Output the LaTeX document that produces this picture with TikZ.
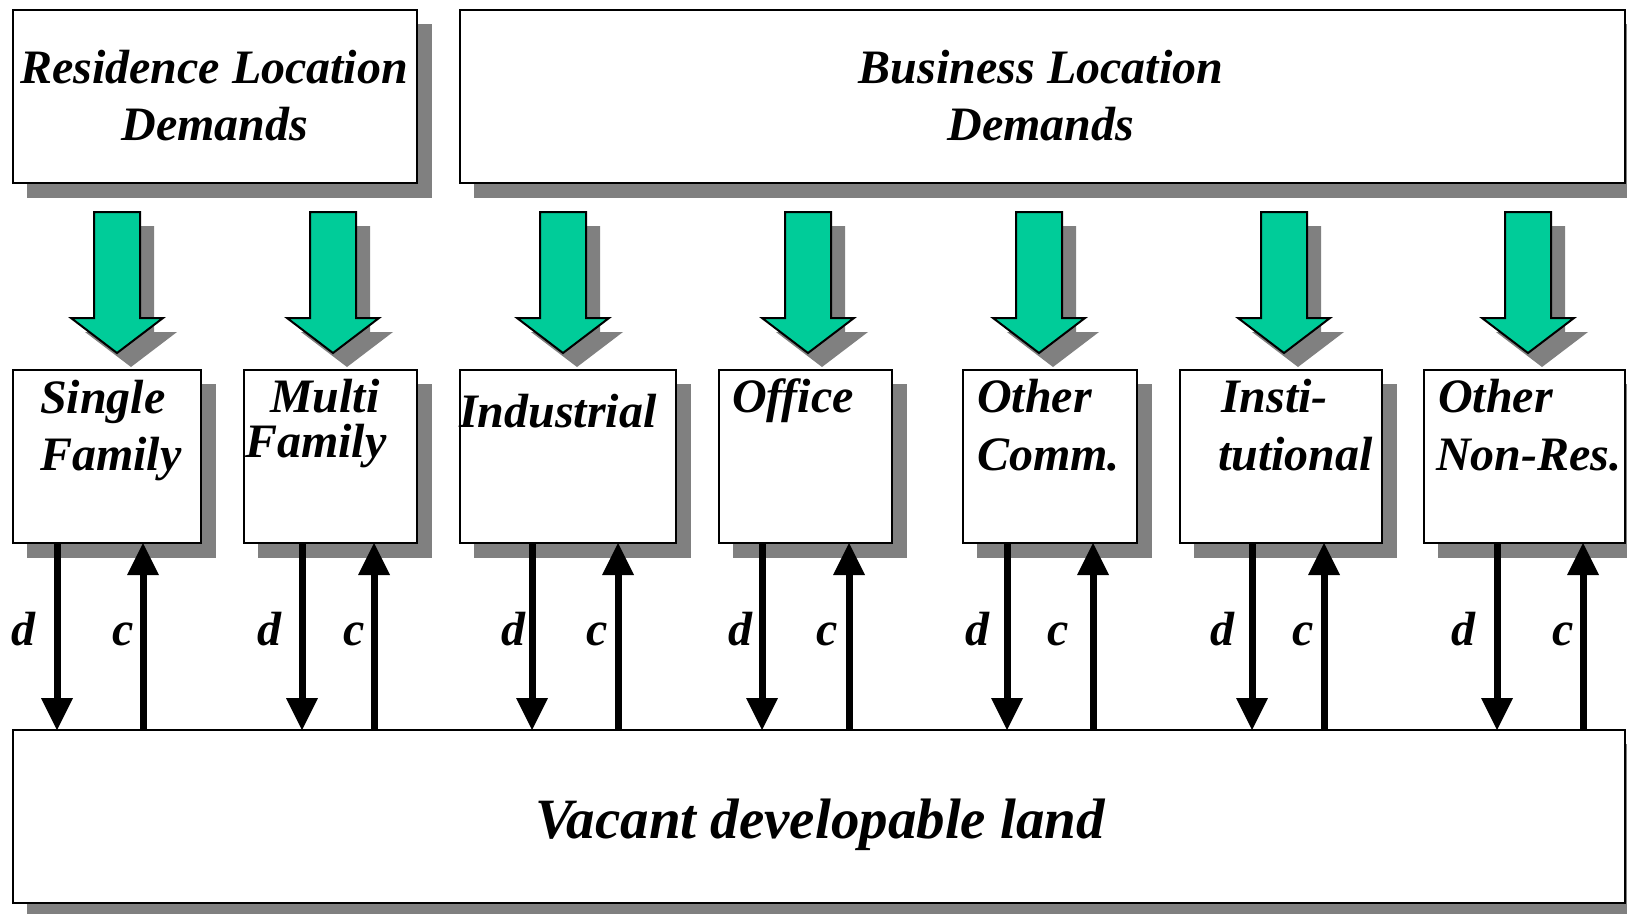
\documentclass[tikz,border=0pt]{standalone}
\usepackage{fontspec}
\setmainfont{Liberation Serif}
\usetikzlibrary{arrows.meta}
\definecolor{shadowgray}{HTML}{808080}
\definecolor{demgreen}{HTML}{00CC99}
\newcommand\mkbox[5]{%
  \fill[shadowgray] ({#2+14},{#3+14}) rectangle ({#4+15},{#5+15});
  \node[box, minimum width={#4pt-#2pt}, minimum height={#5pt-#3pt}] (#1) at ({(#2+#4)/2},{(#3+#5)/2}) {};
}
\newcommand\garrow[1]{%
  \fill[shadowgray, shift={(14,14)}] ({#1-23},212) -- ({#1+23},212) -- ({#1+23},318) -- ({#1+46},318) -- (#1,353) -- ({#1-46},318) -- ({#1-23},318) -- cycle;
  \draw[greenarrow] ({#1-23},212) -- ({#1+23},212) -- ({#1+23},318) -- ({#1+46},318) -- (#1,353) -- ({#1-46},318) -- ({#1-23},318) -- cycle;
}
% name, down x, up x, d label x, c label x
\newcommand\dcpair[5]{%
  \coordinate (#1dx) at (#2,0);
  \coordinate (#1cx) at (#3,0);
  \draw[flow] (#1.south -| #1dx) -- (land.north -| #1dx);
  \draw[flow] (land.north -| #1cx) -- (#1.south -| #1cx);
  \node[txt, anchor=base] (#1d) at (#4,645) {d};
  \node[txt, anchor=base] (#1c) at (#5,645) {c};
}
\begin{document}
\begin{tikzpicture}[x=1pt,y=-1pt,
  box/.style={draw=black, line width=2pt, fill=white, inner sep=0pt, outer sep=0pt},
  greenarrow/.style={draw=black, line width=2pt, fill=demgreen, line join=miter},
  flow/.style={line width=7pt, -{Triangle[width=32pt,length=32pt,line width=0pt]}},
  txt/.style={inner sep=0pt, font=\bfseries\itshape\fontsize{48}{48}\selectfont},
  bigtxt/.style={inner sep=0pt, font=\bfseries\itshape\fontsize{57}{57}\selectfont}]
\useasboundingbox (0,0) rectangle (1627,913);
\clip (0,0) rectangle (1627,913);
\fill[white] (0,0) rectangle (1627,913);
% top boxes
\mkbox{res}{13}{10}{417}{183}
\mkbox{bus}{460}{10}{1625}{183}
\node[txt, anchor=base] (restxt1) at (214,83) {Residence Location};
\node[txt, anchor=base] (restxt2) at (215,140) {Demands};
\node[txt, anchor=base] (bustxt1) at (1041,83) {Business Location};
\node[txt, anchor=base] (bustxt2) at (1041,140) {Demands};
% green arrows
\garrow{117}
\garrow{333}
\garrow{563}
\garrow{808}
\garrow{1039}
\garrow{1284}
\garrow{1528}
% land
\mkbox{land}{13}{730}{1625}{903}
\node[bigtxt, anchor=base] (landtxt) at (820,838) {Vacant developable land};
% category boxes
\mkbox{sf}{13}{370}{201}{543}
\mkbox{mf}{244}{370}{417}{543}
\mkbox{ind}{460}{370}{676}{543}
\mkbox{off}{719}{370}{892}{543}
\mkbox{oc}{963}{370}{1137}{543}
\mkbox{inst}{1180}{370}{1382}{543}
\mkbox{onr}{1424}{370}{1625}{543}
\node[txt, anchor=base west] (sft1) at (40,413) {Single};
\node[txt, anchor=base west] (sft2) at (40,470) {Family};
\node[txt, anchor=base west] (mft1) at (270,412) {Multi};
\node[txt, anchor=base west] (mft2) at (245,457) {Family};
\node[txt, anchor=base west] (indt) at (459,427) {Industrial};
\node[txt, anchor=base west] (offt) at (732,412) {Office};
\node[txt, anchor=base west] (oct1) at (977,412) {Other};
\node[txt, anchor=base west] (oct2) at (977,470) {Comm.};
\node[txt, anchor=base west] (inst1) at (1221,412) {Insti-};
\node[txt, anchor=base west] (inst2) at (1218,470) {tutional};
\node[txt, anchor=base west] (onrt1) at (1438,412) {Other};
\node[txt, anchor=base west] (onrt2) at (1436,470) {Non-Res.};
% d / c flows
\dcpair{sf}{57}{143}{24}{123}
\dcpair{mf}{302}{374}{269}{354}
\dcpair{ind}{532}{618}{513}{597}
\dcpair{off}{762}{849}{740}{827}
\dcpair{oc}{1007}{1093}{977}{1058}
\dcpair{inst}{1252}{1324}{1222}{1303}
\dcpair{onr}{1497}{1583}{1463}{1563}
\end{tikzpicture}
\end{document}
